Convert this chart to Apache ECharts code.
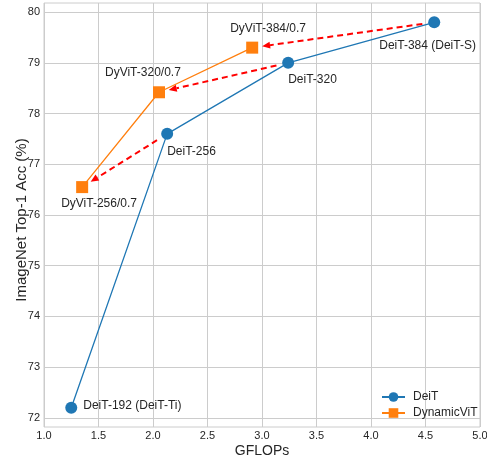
<!DOCTYPE html>
<html><head><meta charset="utf-8">
<script src="https://cdn.jsdelivr.net/npm/echarts@6/dist/echarts.min.js"></script>
<style>html,body{margin:0;padding:0;background:#fff}#c{width:487px;height:456px}</style>
</head><body><div id="c"></div>
<script>
// ---- data ----
const deitNames = ['DeiT-192 (DeiT-Ti)', 'DeiT-256', 'DeiT-320', 'DeiT-384 (DeiT-S)'];
const deitFlops = [1.25, 2.13, 3.24, 4.58];
const deitAcc = [72.2, 77.6, 79.0, 79.8];
const dyvitNames = ['DyViT-256/0.7', 'DyViT-320/0.7', 'DyViT-384/0.7'];
const dyvitFlops = [1.35, 2.055, 2.91];
const dyvitAcc = [76.55, 78.42, 79.3];
// arrows: from DeiT index -> DyViT index
const arrowFrom = [3, 2, 1];
const arrowTo = [2, 1, 0];
const xTicks = [1.0, 1.5, 2.0, 2.5, 3.0, 3.5, 4.0, 4.5, 5.0];
const yTicks = [72, 73, 74, 75, 76, 77, 78, 79, 80];

// ---- label placement (pixel offsets of text top-left from marker centre) ----
const deitLabelOff = [[12, -8], [0, 12], [0, 11], [-55, 17]];
const dyvitLabelOff = [[-21, 11], [-54, -26], [-22, -25]];
const HALF = 6;

const txt = '#262626';
const font = 'Liberation Sans, Arial, sans-serif';

function mkData(xs, ys, names, offs) {
  return xs.map((x, i) => ({
    value: [x, ys[i]],
    label: {show: true, formatter: names[i], position: [offs[i][0] + HALF, offs[i][1] + HALF],
            color: txt, fontSize: 12, fontFamily: font}
  }));
}

const arrowData = arrowFrom.map((f, i) => [deitFlops[f], deitAcc[f], dyvitFlops[arrowTo[i]], dyvitAcc[arrowTo[i]]]);

const chart = echarts.init(document.getElementById('c'));
chart.setOption({
  animation: false,
  backgroundColor: '#fff',
  grid: {left: 44, right: 7, top: 3, bottom: 29, show: true, borderColor: '#cccccc', borderWidth: 1,
         containLabel: false, outerBoundsMode: 'none'},
  xAxis: {
    type: 'value', min: 1.0, max: 5.0, interval: 0.5,
    name: 'GFLOPs', nameLocation: 'middle', nameGap: 17, nameMoveOverlap: false,
    nameTextStyle: {fontSize: 14, color: txt, fontFamily: font},
    axisLine: {show: false}, axisTick: {show: false},
    axisLabel: {color: txt, fontSize: 11, fontFamily: font, margin: 3, formatter: v => v.toFixed(1), customValues: xTicks},
    splitLine: {show: true, lineStyle: {color: '#cccccc', width: 1}}
  },
  yAxis: {
    type: 'value', min: 71.82, max: 80.18,
    name: 'ImageNet Top-1 Acc (%)', nameLocation: 'middle', nameGap: 15, nameMoveOverlap: false,
    nameTextStyle: {fontSize: 15, color: txt, fontFamily: font, padding: [0, 10, 0, 0]},
    axisLine: {show: false},
    axisTick: {show: false, customValues: yTicks},
    axisLabel: {color: txt, fontSize: 11, fontFamily: font, margin: 4, customValues: yTicks},
    splitLine: {show: true, lineStyle: {color: '#cccccc', width: 1}}
  },
  legend: {
    orient: 'vertical', left: 381, top: 391, padding: 0, itemGap: 4,
    itemWidth: 23, itemHeight: 12,
    textStyle: {color: txt, fontSize: 12, fontFamily: font, padding: [0, 0, 0, 3]},
    data: ['DeiT', 'DynamicViT']
  },
  series: [
    {
      name: 'DeiT', type: 'line', symbol: 'circle', symbolSize: 12,
      itemStyle: {color: '#1f77b4'}, lineStyle: {color: '#1f77b4', width: 1.3},
      data: mkData(deitFlops, deitAcc, deitNames, deitLabelOff), z: 3
    },
    {
      name: 'DynamicViT', type: 'line', symbol: 'rect', symbolSize: 12,
      itemStyle: {color: '#ff7f0e'}, lineStyle: {color: '#ff7f0e', width: 1.3},
      data: mkData(dyvitFlops, dyvitAcc, dyvitNames, dyvitLabelOff), z: 3
    },
    {
      type: 'custom', coordinateSystem: 'cartesian2d', z: 4, silent: true,
      data: arrowData,
      encode: {x: [0, 2], y: [1, 3]},
      renderItem: function (params, api) {
        const p0 = api.coord([api.value(0), api.value(1)]);
        const p1 = api.coord([api.value(2), api.value(3)]);
        const dx = p1[0] - p0[0], dy = p1[1] - p0[1];
        const L = Math.sqrt(dx * dx + dy * dy);
        const ux = dx / L, uy = dy / L;
        const sA = 12, sB = 10, head = 8, hw = 3.5;
        const a = [p0[0] + ux * sA, p0[1] + uy * sA];
        const b = [p1[0] - ux * sB, p1[1] - uy * sB];
        const base = [b[0] - ux * head, b[1] - uy * head];
        return {
          type: 'group',
          children: [
            {type: 'line', shape: {x1: a[0], y1: a[1], x2: base[0], y2: base[1]},
             style: {stroke: '#ff0000', lineWidth: 2, lineDash: [6, 4]}},
            {type: 'polygon', shape: {points: [b, [base[0] - uy * hw, base[1] + ux * hw], [base[0] + uy * hw, base[1] - ux * hw]]},
             style: {fill: '#ff0000'}}
          ]
        };
      }
    }
  ]
});
</script></body></html>
